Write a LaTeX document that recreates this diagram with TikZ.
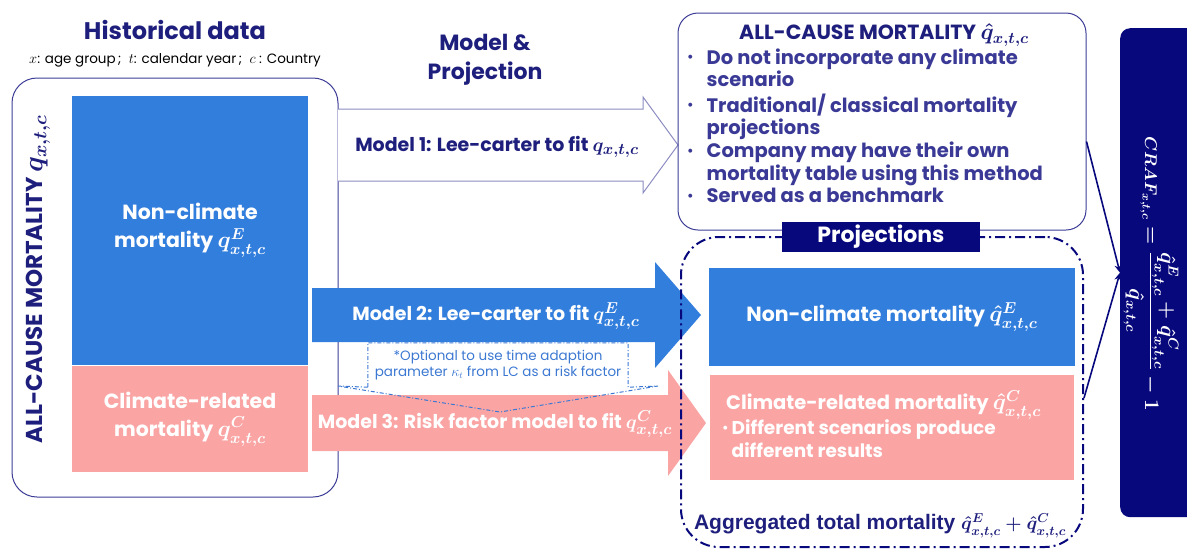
\documentclass[tikz,border=0pt]{standalone}
\usepackage{fontspec}
\usepackage{graphicx}
\setmainfont{Poppins}
\newfontfamily\arialfont{Liberation Sans}
\usetikzlibrary{positioning,arrows.meta}

\definecolor{inkblue}{RGB}{30,30,125}
\definecolor{listblue}{RGB}{58,58,150}
\definecolor{ncblue}{RGB}{50,126,221}
\definecolor{crpink}{RGB}{250,164,164}
\definecolor{deepnavy}{RGB}{8,8,125}
\definecolor{noteblue}{RGB}{60,120,210}
\definecolor{boxline}{RGB}{60,60,150}
\definecolor{outline}{RGB}{140,140,195}

% bigger bold math next to the sans text
\newcommand{\mq}[2][1.1]{\scalebox{#1}{\boldmath$#2$}}
\newcommand{\listdot}{\raisebox{0.12em}{\fontsize{13}{13}\selectfont\textbullet}}

\tikzset{
  heading/.style={font=\fontsize{23}{29}\selectfont\bfseries, text=inkblue, align=center},
  roundbox/.style={draw=boxline, line width=1pt, rounded corners=25pt},
  histblock/.style={minimum width=236, inner sep=0pt, text=white, align=center,
    font=\fontsize{20.5}{28}\selectfont\bfseries},
  modeltext/.style={font=\fontsize{19}{22}\selectfont\bfseries},
  projblock/.style={inner sep=0pt, text=white},
  notedash/.style={draw=noteblue, line width=1pt, dash pattern=on 4pt off 2pt on 1pt off 2pt},
  regiondash/.style={draw=deepnavy, line width=2pt, dash pattern=on 10pt off 4pt on 2pt off 4pt},
  link/.style={draw=deepnavy, line width=1.6pt, -{Stealth[length=8pt,width=7pt]}}
}

\begin{document}
\begin{tikzpicture}[x=1pt,y=-1pt]
\useasboundingbox (0,0) rectangle (1187,550);

% titles
\node[heading, font=\fontsize{24}{29}\selectfont\bfseries] (histtitle) at (175,30) {Historical data};
\node[font=\fontsize{13.5}{16}\selectfont] (histkey) at (175,60)
  {$x$: age group\,;\; $t$: calendar year\,;\; $c$ : Country};
\node[heading, font=\fontsize{22}{29}\selectfont\bfseries] (modtitle) at (485,60) {Model \&\\Projection};

% historical data
\node[roundbox, minimum width=326, minimum height=419] (hist) at (175,287.5) {};
\node[histblock, fill=ncblue, minimum height=269] (nchist) at (190,230.5)
  {Non-climate\\mortality \mq{q^E_{x,t,c}}};
\node[histblock, fill=crpink, minimum height=106] (crhist) at (190,419)
  {Climate-related\\mortality \mq{q^C_{x,t,c}}};
\node[rotate=90, text=inkblue, font=\fontsize{23}{26}\selectfont\bfseries] (histall) at (38,279)
  {ALL-CAUSE MORTALITY \mq{q_{x,t,c}}};

% model arrows
\draw[outline, line width=1pt, fill=white] (338,109) -- (643,109) -- (643,97) -- (678,145)
  -- (643,193) -- (643,181) -- (338,181);
\node[modeltext, text=inkblue] (model1) at (497,147) {Model 1: Lee-carter to fit \mq{q_{x,t,c}}};

\fill[ncblue] (312,288) -- (655,288) -- (655,262) -- (701,315) -- (655,368) -- (655,342)
  -- (312,342) -- cycle;
\node[modeltext, text=white] (model2) at (496,316) {Model 2: Lee-carter to fit \mq{q^E_{x,t,c}}};

\fill[crpink] (312,395) -- (668,395) -- (668,370) -- (706,423) -- (668,476) -- (668,451)
  -- (312,451) -- cycle;
\node[modeltext, text=white] (model3) at (495,424) {Model 3: Risk factor model to fit \mq{q^C_{x,t,c}}};

% optional kappa note
\node[minimum width=260, minimum height=44, inner sep=0pt, align=center, text=noteblue,
  font=\fontsize{13.5}{16}\selectfont] (note) at (498,365)
  {*Optional to use time adaption\\parameter $\kappa_t$ from LC as a risk factor};
\draw[notedash] (note.south west) -- (note.north west) -- (note.north east) -- (note.south east)
  -- (658,386) -- (500,412) -- (338,386) -- (note.south west);

% projection without climate
\node[roundbox, rounded corners=20pt, minimum width=408, minimum height=217] (allproj) at (882,121.5) {};
\node[font=\fontsize{20.5}{24}\selectfont\bfseries, text=inkblue] (alltitle) at (884,35)
  {ALL-CAUSE MORTALITY \mq{\hat{q}_{x,t,c}}};
\node[anchor=north west, inner sep=0pt, text=listblue, font=\fontsize{19.5}{22.7}\selectfont\bfseries]
  (alllist) at (687,48) {%
  \begin{tabular}{@{}l@{\hspace{13pt}}l@{}}
  \listdot & Do not incorporate any climate\\
           & scenario\\
  \listdot & Traditional/ classical mortality\\
           & projections\\
  \listdot & Company may have their own\\
           & mortality table using this method\\
  \listdot & Served as a benchmark
  \end{tabular}};

% projections
\node[regiondash, rounded corners=38pt, minimum width=402, minimum height=310] (proj) at (882,392) {};
\node[fill=deepnavy, text=white, minimum width=198, minimum height=30, inner sep=0pt,
  font=\fontsize{22}{24}\selectfont\bfseries] (projlabel) at (881,237) {Projections};
\node[projblock, fill=ncblue, minimum width=366, minimum height=98,
  font=\fontsize{20.5}{24}\selectfont\bfseries] (ncproj) at (892,317)
  {Non-climate mortality \mq{\hat{q}^E_{x,t,c}}};
\node[projblock, fill=crpink, minimum width=364, minimum height=105] (crproj) at (892,427.5) {};
\node[anchor=west, inner sep=0pt, text=white, font=\fontsize{19.5}{22}\selectfont\bfseries] (crtitle) at (726,405)
  {Climate-related mortality \mq{\hat{q}^C_{x,t,c}}};
\node[anchor=north west, inner sep=0pt, text=white, font=\fontsize{18.5}{22.5}\selectfont\bfseries]
  (crnote) at (722,419) {%
  \begin{tabular}{@{}l@{\hspace{3pt}}l@{}}
  \listdot & Different scenarios produce\\
           & different results
  \end{tabular}};
\node[text=inkblue, font=\arialfont\fontsize{21}{24}\selectfont\bfseries] (agg) at (880,526)
  {Aggregated total mortality \mq[0.9]{\hat{q}^E_{x,t,c}+\hat{q}^C_{x,t,c}}};

% climate risk adjustment factor
\node[fill=deepnavy, rounded corners=10pt, minimum width=80, minimum height=489, anchor=north west]
  (craf) at (1120,28) {};
\node[rotate=-90, text=white, font=\fontsize{19.5}{24}\selectfont] (crafeq) at (1151,274)
  {{\boldmath\scalebox{0.82}{$CRAF_{x,t,c}$}%
   $\;=\displaystyle\frac{\hat{q}^E_{x,t,c}+\hat{q}^C_{x,t,c}}{\hat{q}_{x,t,c}}-1$}};

\draw[link] ([yshift=-20pt]allproj.east) -- (craf.west);
\draw[link] ([yshift=-6pt]proj.east) -- (craf.west);
\end{tikzpicture}
\end{document}
